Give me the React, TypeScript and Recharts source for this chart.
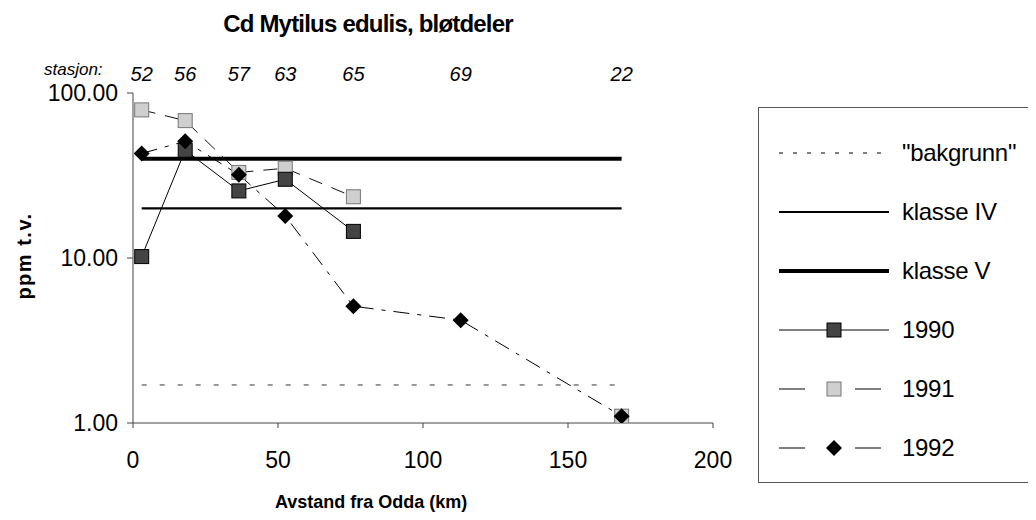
import React from "react";
import { LineChart, Line, XAxis, YAxis, Legend } from "recharts";

// stasjoner og avstand fra Odda (km)
const stations = ["52", "56", "57", "63", "65", "69", "22"];
const distanceKm = [3, 18, 36.5, 52.5, 76, 113, 168.5];

// Cd i blåskjell, ppm t.v.
const cd1990 = [10.2, 45, 25.5, 30, 14.5, null, null];
const cd1991 = [79, 68, 33, 35, 23.5, null, 1.1];
const cd1992 = [43, 51, 32, 18, 5.1, 4.2, 1.1];

// grenseverdier
const bakgrunn = 1.7;
const klasseIV = 20;
const klasseV = 40;

const xTicks = [0, 50, 100, 150, 200];
const yTicks = [1, 10, 100];

const rows = distanceKm.map((km, i) => ({
  km,
  bak: bakgrunn,
  iv: klasseIV,
  v: klasseV,
  y1990: cd1990[i],
  y1991: cd1991[i],
  y1992: cd1992[i],
}));

const FONT = "'Liberation Sans', Arial, sans-serif";
const legendOrder = ["bak", "iv", "v", "y1990", "y1991", "y1992"];

const squareDot = (fill: string, stroke: string) => (props: any) => {
  const { cx, cy, value, index } = props;
  if (cx == null || cy == null || value == null) return <g key={`n${index}`} />;
  return (
    <rect key={`s${index}`} x={cx - 7} y={cy - 7} width={14} height={14} fill={fill} stroke={stroke} strokeWidth={1} />
  );
};

const diamondDot = (props: any) => {
  const { cx, cy, value, index } = props;
  if (cx == null || cy == null || value == null) return <g key={`n${index}`} />;
  return <path key={`d${index}`} d={`M${cx},${cy - 8} L${cx + 8},${cy} L${cx},${cy + 8} L${cx - 8},${cy} Z`} fill="#000" />;
};

const legendSample: Record<string, { dash?: string; width: number; marker?: string }> = {
  bak: { dash: "4 10", width: 1 },
  iv: { width: 2.2 },
  v: { width: 4 },
  y1990: { width: 1, marker: "dark" },
  y1991: { dash: "26 50", width: 1, marker: "light" },
  y1992: { dash: "26 50", width: 1, marker: "diamond" },
};

function LegendBox({ payload }: any) {
  const items = legendOrder
    .map((k) => (payload || []).find((p: any) => p.dataKey === k))
    .filter(Boolean);
  return (
    <div
      style={{
        border: "1px solid #555",
        width: 300,
        height: 376,
        boxSizing: "border-box",
        paddingTop: 15,
        background: "#fff",
        fontFamily: FONT,
      }}
    >
      {items.map((it: any) => {
        const s = legendSample[it.dataKey];
        return (
          <div key={it.dataKey} style={{ height: 59, display: "flex", alignItems: "center" }}>
            <svg width={143} height={24} style={{ flex: "none" }}>
              <line x1={20} x2={130} y1={12} y2={12} stroke="#000" strokeWidth={s.width} strokeDasharray={s.dash} />
              {s.marker === "dark" && <rect x={68} y={5} width={14} height={14} fill="#444" stroke="#000" />}
              {s.marker === "light" && <rect x={68} y={5} width={14} height={14} fill="#cfcfcf" stroke="#777" />}
              {s.marker === "diamond" && <path d="M75,4 L83,12 L75,20 L67,12 Z" fill="#000" />}
            </svg>
            <span style={{ fontSize: 24, color: "#000", whiteSpace: "nowrap", letterSpacing: -0.3 }}>{it.value}</span>
          </div>
        );
      })}
    </div>
  );
}

export default function App() {
  return (
    <div style={{ position: "relative", margin: -8, width: 1036, height: 520, background: "#fff", fontFamily: FONT, overflow: "hidden" }}>
      <LineChart width={1036} height={520} data={rows} margin={{ top: 73, right: 323, bottom: 0, left: 0 }}>
        <XAxis
          dataKey="km"
          type="number"
          domain={[0, 200]}
          ticks={xTicks}
          interval={0}
          height={97}
          stroke="#444"
          tickSize={5}
          tickMargin={24}
          tick={{ fontSize: 23, fill: "#000", fontFamily: FONT }}
        />
        <XAxis
          xAxisId="top"
          orientation="top"
          dataKey="km"
          type="number"
          domain={[0, 200]}
          ticks={distanceKm}
          interval={0}
          height={20}
          axisLine={false}
          tickLine={false}
          tickSize={0}
          tickMargin={12}
          tickFormatter={(v: number) => stations[distanceKm.indexOf(v)]}
          tick={{ fontSize: 20, fill: "#000", fontStyle: "italic", fontFamily: FONT }}
        />
        <YAxis
          scale="log"
          domain={[1, 100]}
          ticks={yTicks}
          interval={0}
          allowDataOverflow
          width={133}
          stroke="#444"
          tickSize={6}
          tickMargin={9}
          tickFormatter={(v: number) => v.toFixed(2)}
          tick={{ fontSize: 23, fill: "#000", fontFamily: FONT }}
        />
        <Legend
          layout="vertical"
          align="center"
          verticalAlign="middle"
          wrapperStyle={{ left: 758, top: 107, width: 300, height: 376 }}
          content={LegendBox}
        />
        <Line dataKey="bak" name={'"bakgrunn"'} stroke="#333" strokeWidth={1} strokeDasharray="5 13" dot={false} isAnimationActive={false} />
        <Line dataKey="iv" name="klasse IV" stroke="#000" strokeWidth={2.2} dot={false} isAnimationActive={false} />
        <Line dataKey="v" name="klasse V" stroke="#000" strokeWidth={4} dot={false} isAnimationActive={false} />
        <Line dataKey="y1991" name="1991" stroke="#111" strokeWidth={1} strokeDasharray="14 10" dot={squareDot("#cfcfcf", "#777")} isAnimationActive={false} />
        <Line dataKey="y1990" name="1990" stroke="#000" strokeWidth={1} dot={squareDot("#444", "#000")} isAnimationActive={false} />
        <Line dataKey="y1992" name="1992" stroke="#000" strokeWidth={1} strokeDasharray="16 8 4 8" dot={diamondDot} isAnimationActive={false} />
      </LineChart>

      <div style={{ position: "absolute", left: 0, width: 736, top: 11, textAlign: "center", fontSize: 24, fontWeight: "bold", letterSpacing: -0.8, lineHeight: "26px" }}>
        Cd Mytilus edulis, bløtdeler
      </div>
      <div style={{ position: "absolute", left: 44, top: 60, fontSize: 17, fontStyle: "italic", lineHeight: "20px" }}>stasjon:</div>
      <div
        style={{
          position: "absolute",
          left: 24,
          top: 256,
          transform: "translate(-50%, -50%) rotate(-90deg)",
          fontSize: 20,
          fontWeight: "bold",
          letterSpacing: 1.5,
          whiteSpace: "nowrap",
          lineHeight: "22px",
        }}
      >
        ppm t.v.
      </div>
      <div style={{ position: "absolute", left: 275, top: 491, fontSize: 18, fontWeight: "bold", lineHeight: "22px", whiteSpace: "nowrap" }}>
        Avstand fra Odda (km)
      </div>
    </div>
  );
}
